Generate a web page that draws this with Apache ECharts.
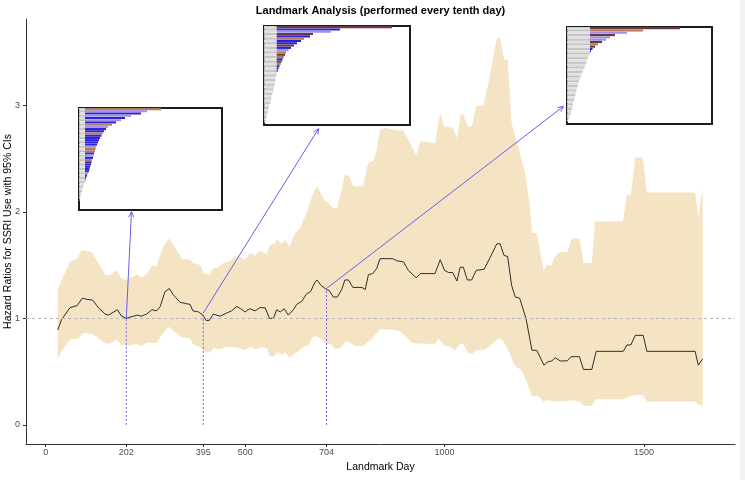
<!DOCTYPE html>
<html><head><meta charset="utf-8">
<script src="https://cdn.jsdelivr.net/npm/echarts@6/dist/echarts.min.js"></script>
<style>html,body{margin:0;padding:0;background:#fff}#c{width:745px;height:480px}</style>
</head><body><div id="c"></div>
<script>
// ---------- data ----------
const chartTitle = 'Landmark Analysis (performed every tenth day)';
const xTitle = 'Landmark Day';
const yTitle = 'Hazard Ratios for SSRI Use with 95% CIs';
const xTicks = [0, 202, 395, 500, 704, 1000, 1500];
const yTicks = [0, 1, 2, 3];

const hrDays = [30,40,61,79,92,101,118,132,149,157,180,190,202,220,230,240,253,266,278,287,299,310,320,337,350,362,369,383,394,402,410,420,437,454,466,479,489,500,511,525,537,550,561,571,579,588,598,608,621,629,642,654,664,675,680,690,704,711,721,731,742,750,759,770,793,801,809,820,830,838,870,880,897,909,929,939,959,976,989,1000,1010,1020,1031,1039,1047,1057,1068,1079,1099,1114,1131,1139,1149,1158,1168,1177,1188,1204,1219,1231,1249,1258,1269,1277,1290,1307,1317,1338,1348,1369,1380,1448,1457,1467,1478,1498,1507,1628,1636,1647];
const hrVals = [0.89,0.99,1.10,1.12,1.19,1.18,1.17,1.10,1.04,1.03,1.08,1.02,1.00,1.02,1.03,1.02,1.04,1.08,1.07,1.11,1.25,1.28,1.22,1.15,1.14,1.13,1.07,1.06,1.03,0.98,0.98,1.04,1.02,1.05,1.07,1.11,1.09,1.06,1.09,1.07,1.10,1.10,1.00,1.00,1.08,1.06,1.09,1.03,1.08,1.13,1.16,1.23,1.25,1.34,1.36,1.31,1.27,1.26,1.20,1.20,1.27,1.36,1.36,1.29,1.29,1.27,1.41,1.42,1.47,1.56,1.56,1.54,1.53,1.45,1.38,1.42,1.42,1.42,1.55,1.45,1.43,1.43,1.35,1.48,1.48,1.36,1.36,1.45,1.46,1.57,1.70,1.70,1.59,1.58,1.31,1.20,1.19,1.00,0.70,0.70,0.56,0.59,0.60,0.63,0.60,0.60,0.64,0.64,0.52,0.52,0.69,0.69,0.75,0.75,0.84,0.84,0.69,0.69,0.56,0.62];

const upDays = [30,40,61,79,90,104,115,132,149,161,178,188,201,216,229,240,255,266,278,287,299,310,320,341,362,369,387,397,410,420,433,445,462,474,487,500,512,525,537,554,562,572,581,592,600,611,625,638,654,667,679,687,700,707,721,730,742,750,759,771,796,805,811,822,830,838,851,872,897,914,929,939,956,976,989,999,1010,1020,1031,1041,1047,1058,1068,1079,1097,1110,1122,1131,1139,1149,1158,1168,1189,1202,1213,1219,1231,1248,1256,1269,1273,1287,1308,1319,1338,1348,1369,1377,1447,1457,1467,1478,1497,1507,1628,1636,1647];
const upVals = [1.27,1.36,1.53,1.56,1.64,1.63,1.62,1.52,1.41,1.41,1.45,1.38,1.36,1.39,1.41,1.38,1.42,1.49,1.49,1.60,1.70,1.75,1.69,1.56,1.55,1.52,1.50,1.42,1.41,1.47,1.48,1.52,1.54,1.58,1.58,1.55,1.61,1.59,1.64,1.60,1.69,1.70,1.74,1.70,1.74,1.67,1.80,1.85,1.99,2.14,2.24,2.19,2.10,2.09,2.03,2.04,2.21,2.35,2.34,2.24,2.24,2.41,2.47,2.48,2.58,2.77,2.79,2.77,2.76,2.64,2.53,2.66,2.66,2.64,2.93,2.80,2.80,2.79,2.69,2.92,2.91,2.80,2.80,2.99,3.00,3.21,3.46,3.63,3.63,3.43,3.43,2.83,2.55,2.36,2.08,1.80,1.80,1.45,1.50,1.50,1.56,1.62,1.62,1.75,1.75,1.52,1.52,1.91,1.91,2.16,2.16,2.51,2.51,2.18,2.18,1.95,2.22];

const loDays = [30,40,61,82,93,104,119,136,151,165,178,188,201,216,229,240,253,278,288,308,320,341,362,370,387,402,412,420,437,454,470,487,500,512,527,541,554,561,571,579,592,600,611,621,634,646,659,671,679,692,703,713,726,738,751,764,774,797,805,818,838,871,888,918,939,976,985,997,1014,1027,1039,1047,1060,1071,1081,1102,1119,1135,1143,1156,1164,1177,1194,1206,1219,1235,1248,1258,1281,1298,1319,1338,1348,1369,1380,1448,1461,1478,1498,1507,1628,1636,1647];
const loVals = [0.62,0.69,0.80,0.81,0.86,0.86,0.85,0.80,0.76,0.77,0.80,0.75,0.74,0.75,0.76,0.74,0.77,0.77,0.83,0.92,0.88,0.82,0.81,0.75,0.73,0.68,0.68,0.72,0.71,0.73,0.73,0.72,0.70,0.73,0.71,0.73,0.72,0.65,0.64,0.68,0.66,0.68,0.63,0.66,0.69,0.73,0.75,0.83,0.83,0.80,0.76,0.76,0.71,0.72,0.78,0.77,0.74,0.74,0.77,0.81,0.90,0.89,0.88,0.77,0.76,0.76,0.81,0.75,0.73,0.70,0.76,0.76,0.67,0.67,0.70,0.71,0.76,0.81,0.80,0.73,0.66,0.55,0.51,0.40,0.27,0.27,0.22,0.23,0.22,0.22,0.23,0.22,0.18,0.18,0.24,0.24,0.26,0.28,0.28,0.22,0.22,0.19,0.18];

const refLine = 1;
const landmarkDays = [202, 395, 704];
const landmarkHR = [1.00, 1.05, 1.28];
const arrowTipDays = [215, 684, 1298];
const arrowTipVals = [2.00, 2.78, 2.99];

// inset bar charts (row lengths, sorted; colour codes b=blue l=lavender r=brown m=maroon)
const inset1Len = [82,68,62,52,46,42,37,33,29,27,25,23.5,22.5,21,20,19,18,17,16.5,16,15,14.5,14,13,12.5,12,11,10.5,10,9,8,7,6.5,6,5,4.3,3.8,3,2.5,1.8,1,0.5];
const inset1Col = 'rlblblbrlbbrbbbbblrrblbrbbbbblbbbrbbbbbbbb';
const inset1Thr = 6;
const inset2Len = [128,76,67,49,46,40,37,33,30,27,24.5,22,21,19.8,18.7,17.7,16.7,15.5,14.5,13.6,12.9,12.2,11.8,11.5,11.1,10.7,10.1,9.5,9,8.3,7.8,7.2,6.6,6,5.4,4.9,4.3,3.7,3.1,2.6,2,1.4];
const inset2Col = 'mblmbrbbmblrmrbmrbbbrbbbbbbbbbbbbbbbbbbbbb';
const inset2Thr = 12.7;
const inset3Len = [113,76,60,48,43,39,35,31,28,25.5,24,23,22,20.8,20,19.2,18.4,17.5,16.5,15.6,14.7,13.7,12.9,12.1,11.3,10.7,10.1,9.5,8.9,8.3,7.8,7.2,6.6,6,5.4,4.9,4.3,3.6,2.8,2,1.2];
const inset3Col = 'mrlmllmrmbbbbbbbbbbbbbbbbbbbbbbbbbbbbbbbb';
const inset3Thr = 23;

// ---------- styling / layout ----------
const FONT = '"Liberation Sans", Arial, sans-serif';
const colorMap = {b:'#2b1fd8', l:'#9d90e6', r:'#b27b55', m:'#6a3a3e'};
const insetLayout = [
  {left:79, top:108, width:143, height:102, rows:46, len:inset1Len, col:inset1Col, thr:inset1Thr},
  {left:264, top:26, width:146, height:99, rows:43, len:inset2Len, col:inset2Col, thr:inset2Thr},
  {left:567, top:27, width:145, height:97, rows:42, len:inset3Len, col:inset3Col, thr:inset3Thr}
];

const chart = echarts.init(document.getElementById('c'), null, {renderer:'canvas'});

const grids = [{left:26, top:19, width:709, height:425, containLabel:false, outerBoundsMode:'none'}];
const xAxes = [{
  type:'value', gridIndex:0, min:-49.4, max:1728,
  name:xTitle, nameLocation:'middle', nameGap:18, nameMoveOverlap:false,
  nameTextStyle:{fontFamily:FONT, fontSize:10.5, color:'#000'},
  axisLine:{show:true, onZero:false, lineStyle:{color:'#333', width:1}},
  axisTick:{show:true, length:3, customValues:xTicks, lineStyle:{color:'#333'}},
  axisLabel:{customValues:xTicks, fontFamily:FONT, fontSize:9, color:'#4d4d4d', margin:4,
    formatter:(v)=>String(v)},
  splitLine:{show:false}
}];
const yAxes = [{
  type:'value', gridIndex:0, min:-0.18, max:3.81,
  name:yTitle, nameLocation:'middle', nameGap:12, nameRotate:90, nameMoveOverlap:false,
  nameTextStyle:{fontFamily:FONT, fontSize:10.5, color:'#000'},
  axisLine:{show:true, onZero:false, lineStyle:{color:'#333', width:1}},
  axisTick:{show:true, length:3, customValues:yTicks, lineStyle:{color:'#333'}},
  axisLabel:{customValues:yTicks, fontFamily:FONT, fontSize:9, color:'#4d4d4d', margin:6,
    formatter:(v)=>String(v)},
  splitLine:{show:false}
}];

const series = [
  {
    type:'custom', name:'CI', xAxisIndex:0, yAxisIndex:0, z:1, silent:true,
    data:[[upDays[0], upVals[0]]],
    renderItem:function(params, api){
      const pts = [];
      for (let i=0;i<upDays.length;i++) pts.push(api.coord([upDays[i], upVals[i]]));
      for (let i=loDays.length-1;i>=0;i--) pts.push(api.coord([loDays[i], loVals[i]]));
      return {type:'polygon', shape:{points:pts}, style:{fill:'#f5e4c4', stroke:null}};
    }
  },
  {
    type:'line', name:'HR', xAxisIndex:0, yAxisIndex:0, z:3,
    data: hrDays.map((d,i)=>[d, hrVals[i]]),
    showSymbol:false, symbol:'none',
    lineStyle:{color:'#2e2e2e', width:1},
    markLine:{silent:true, symbol:['none','none'], label:{show:false},
      lineStyle:{color:'#b5b5b5', type:[3,3], width:1}, data:[{yAxis:refLine}]}
  },
  {
    type:'custom', name:'annot', xAxisIndex:0, yAxisIndex:0, z:4, silent:true,
    encode:{x:[0,2], y:[1,3]},
    data: landmarkDays.map((d,i)=>[d,0,d,landmarkHR[i],0])
      .concat(landmarkDays.map((d,i)=>[d,landmarkHR[i],arrowTipDays[i],arrowTipVals[i],1])),
    renderItem:function(params, api){
      const p0 = api.coord([api.value(0), api.value(1)]);
      const p1 = api.coord([api.value(2), api.value(3)]);
      const stroke = '#6a5cf0';
      if (api.value(4) === 0) {
        return {type:'line', shape:{x1:p0[0],y1:p0[1],x2:p1[0],y2:p1[1]},
          style:{stroke:stroke, lineWidth:1, lineDash:[2,2]}};
      }
      const ang = Math.atan2(p1[1]-p0[1], p1[0]-p0[0]);
      const L = 6, a = Math.PI/7;
      const h1 = [p1[0]-L*Math.cos(ang-a), p1[1]-L*Math.sin(ang-a)];
      const h2 = [p1[0]-L*Math.cos(ang+a), p1[1]-L*Math.sin(ang+a)];
      return {type:'group', children:[
        {type:'line', shape:{x1:p0[0],y1:p0[1],x2:p1[0],y2:p1[1]}, style:{stroke:stroke, lineWidth:1}},
        {type:'polyline', shape:{points:[h1,p1,h2]}, style:{stroke:stroke, fill:'none', lineWidth:1}}
      ]};
    }
  }
];

insetLayout.forEach((L, k) => {
  const gi = k + 1;
  grids.push({left:L.left, top:L.top, width:L.width, height:L.height, show:true,
    backgroundColor:'#ffffff', borderColor:'#1c1c1c', borderWidth:2, z:10,
    containLabel:false, outerBoundsMode:'none'});
  xAxes.push({type:'value', gridIndex:gi, min:0, max:L.width, show:false});
  const cats = Array.from({length:L.rows}, (_,i)=>String(i));
  yAxes.push({type:'category', gridIndex:gi, data:cats, inverse:true, show:false});
  const grayData = cats.map((_,i)=>{
    const v = i < L.len.length ? Math.min(L.len[i], L.thr) : 0;
    return {value:v, itemStyle:{color: i%2 ? '#c4c4c4' : '#e0e0e0'}};
  });
  const colData = cats.map((_,i)=>{
    const v = i < L.len.length ? Math.max(L.len[i]-L.thr, 0) : 0;
    const c = i < L.col.length ? colorMap[L.col[i]] : colorMap.b;
    return {value:v, itemStyle:{color:c}};
  });
  series.push({type:'bar', xAxisIndex:gi, yAxisIndex:gi, stack:'s'+gi, data:grayData,
    barCategoryGap:'8%', z:11, silent:true});
  series.push({type:'bar', xAxisIndex:gi, yAxisIndex:gi, stack:'s'+gi, data:colData,
    barCategoryGap:'8%', z:11, silent:true});
});

chart.setOption({
  animation:false,
  backgroundColor:'#ffffff',
  textStyle:{fontFamily:FONT},
  grid:grids, xAxis:xAxes, yAxis:yAxes, series:series,
  graphic:[
    {type:'text', x:380.5, y:11, z:20, style:{text:chartTitle, font:'bold 11px ' + FONT, fill:'#000', align:'center', verticalAlign:'middle'}},
    {type:'rect', shape:{x:740, y:0, width:5, height:480}, style:{fill:'#f2f2f2'}, z:-1}
  ]
});
</script></body></html>
